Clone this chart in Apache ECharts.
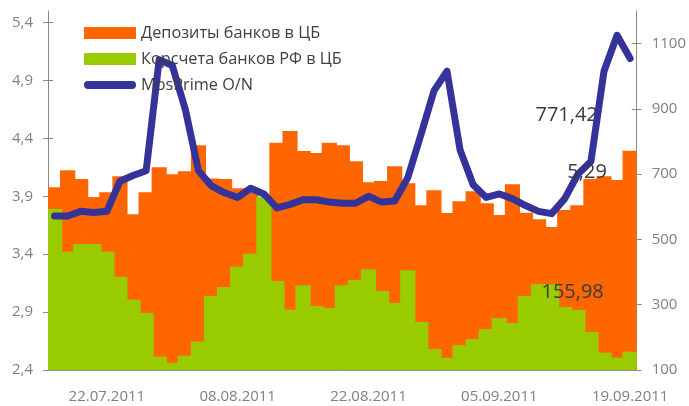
<!DOCTYPE html>
<html>
<head>
<meta charset="utf-8">
<script src="https://cdn.jsdelivr.net/npm/echarts@6/dist/echarts.min.js"></script>
<style>
html,body{margin:0;padding:0;background:#fff;}
#chart{width:689px;height:406px;}
</style>
</head>
<body>
<div id="chart"></div>
<script>
var categories = [
  '18.07.2011','19.07.2011','20.07.2011','21.07.2011','22.07.2011',
  '25.07.2011','26.07.2011','27.07.2011','28.07.2011','29.07.2011',
  '01.08.2011','02.08.2011','03.08.2011','04.08.2011','08.08.2011',
  '09.08.2011','10.08.2011','11.08.2011','12.08.2011','15.08.2011',
  '16.08.2011','17.08.2011','18.08.2011','19.08.2011','22.08.2011',
  '23.08.2011','24.08.2011','25.08.2011','26.08.2011','29.08.2011',
  '30.08.2011','31.08.2011','01.09.2011','02.09.2011','05.09.2011',
  '06.09.2011','07.09.2011','08.09.2011','09.09.2011','12.09.2011',
  '13.09.2011','14.09.2011','15.09.2011','16.09.2011','19.09.2011'
];
var deposits = [660,712,685,630,645,694,577,645,721,700,709,789,687,685,657,656,625,796,832,771,765,796,789,740,675,679,724,672,605,651,581,617,648,611,575,669,582,562,538,590,605,685,694,682,771.42];
var corrAccounts = [593,462,486,486,462,386,315,275,141,122,144,187,327,354,416,456,630,373,285,360,296,290,360,376,409,342,305,406,247,164,137,176,195,225,259,244,327,363,363,293,284,216,153,138,155.98];
var mosprime = [3.73,3.73,3.77,3.76,3.77,4.03,4.08,4.12,5.08,5.03,4.65,4.12,3.99,3.93,3.89,3.97,3.92,3.80,3.83,3.87,3.87,3.85,3.84,3.84,3.90,3.85,3.86,4.06,4.43,4.81,4.98,4.30,4.00,3.89,3.92,3.88,3.82,3.77,3.75,3.88,4.09,4.20,4.98,5.29,5.09];
var leftTicks = [2.4,2.9,3.4,3.9,4.4,4.9,5.4];
var rightTicks = [100,300,500,700,900,1100];
var seriesNames = ['Депозиты банков в ЦБ','Корсчета банков РФ в ЦБ','MosPrime O/N'];

var FONT = 'Open Sans';
var labelStyle = {fontFamily: FONT, fontSize: 20, color: '#3b3b3b'};
function comma(v){ return String(v).replace('.', ','); }

var depLast = deposits.length - 1;
var depData = deposits.map(function(v,i){
  if (i === depLast) return {value: v, label: Object.assign({show:true, position:'top', offset:[-63,-21], formatter: function(p){return comma(p.value);}}, labelStyle)};
  return v;
});
var corrData = corrAccounts.map(function(v,i){
  if (i === corrAccounts.length - 1) return {value: v, label: Object.assign({show:true, position:'top', offset:[-57,-44], formatter: function(p){return comma(p.value);}}, labelStyle)};
  return v;
});
var maxIdx = mosprime.indexOf(Math.max.apply(null, mosprime));
var mpData = mosprime.map(function(v,i){
  if (i === maxIdx) return {value: v, label: Object.assign({show:true, position:'bottom', offset:[-30,121], formatter: function(p){return comma(p.value);}}, labelStyle)};
  return v;
});

var axisGrey = '#8a8a8a';
var chart = echarts.init(document.getElementById('chart'), null, {renderer:'canvas'});
chart.setOption({
  animation: false,
  grid: {left: 48, right: 51, top: 11, bottom: 36},
  legend: {
    orient: 'vertical', left: 84, top: 25, padding: 0,
    itemWidth: 52, itemHeight: 12, itemGap: 10,
    textStyle: {fontFamily: FONT, fontSize: 16.3, color: '#404040'},
    data: [
      {name: seriesNames[0], icon: 'rect'},
      {name: seriesNames[1], icon: 'rect'},
      {name: seriesNames[2], icon: 'path://M4,0 L48,0 A4,4 0 0 1 48,8 L4,8 A4,4 0 0 1 4,0 Z'}
    ]
  },
  xAxis: {
    type: 'category', data: categories, boundaryGap: true,
    axisLine: {lineStyle: {color: axisGrey, width: 1}},
    axisTick: {length: 5, lineStyle: {color: axisGrey}, interval: function(i){ return i % 5 === 0; }},
    axisLabel: {interval: function(i){ return i % 10 === 4; }, margin: 19, fontFamily: FONT, fontSize: 15, color: '#808080'},
    splitLine: {show: false}
  },
  yAxis: [
    {type: 'value', position: 'left', min: 2.4, max: 5.5,
      axisLine: {show: true, lineStyle: {color: axisGrey}},
      axisTick: {show: true, length: 5, lineStyle: {color: axisGrey}, customValues: leftTicks},
      axisLabel: {customValues: leftTicks, margin: 15, fontFamily: FONT, fontSize: 15, color: '#808080', formatter: function(v){ return v.toFixed(1).replace('.', ','); }},
      splitLine: {show: false}},
    {type: 'value', position: 'right', min: 100, max: 1200,
      axisLine: {show: true, lineStyle: {color: axisGrey}},
      axisTick: {show: true, length: 5, lineStyle: {color: axisGrey}, customValues: rightTicks},
      axisLabel: {customValues: rightTicks, margin: 15, fontFamily: FONT, fontSize: 15, color: '#808080', formatter: function(v){ return String(v); }},
      splitLine: {show: false}},
    {type: 'value', position: 'left', min: 2.4, max: 5.5,
      axisLine: {show: false},
      axisTick: {show: true, inside: true, length: 5, lineStyle: {color: axisGrey}, customValues: leftTicks},
      axisLabel: {show: false}, splitLine: {show: false}},
    {type: 'value', position: 'right', min: 100, max: 1200,
      axisLine: {show: false},
      axisTick: {show: true, inside: true, length: 5, lineStyle: {color: axisGrey}, customValues: rightTicks},
      axisLabel: {show: false}, splitLine: {show: false}}
  ],
  series: [
    {name: seriesNames[0], type: 'bar', yAxisIndex: 1, data: depData, clip: true,
      barWidth: '116%', barGap: '-100%', itemStyle: {color: '#FF6600'}, z: 1},
    {name: seriesNames[1], type: 'bar', yAxisIndex: 1, data: corrData, clip: true,
      barWidth: '116%', barGap: '-100%', itemStyle: {color: '#99CC00'}, z: 2},
    {name: seriesNames[2], type: 'line', yAxisIndex: 0, data: mpData,
      symbol: 'circle', symbolSize: 1, showSymbol: true, itemStyle: {color: '#333399'},
      lineStyle: {color: '#333399', width: 7, cap: 'round', join: 'round'}, z: 3}
  ]
});
</script>
</body>
</html>
